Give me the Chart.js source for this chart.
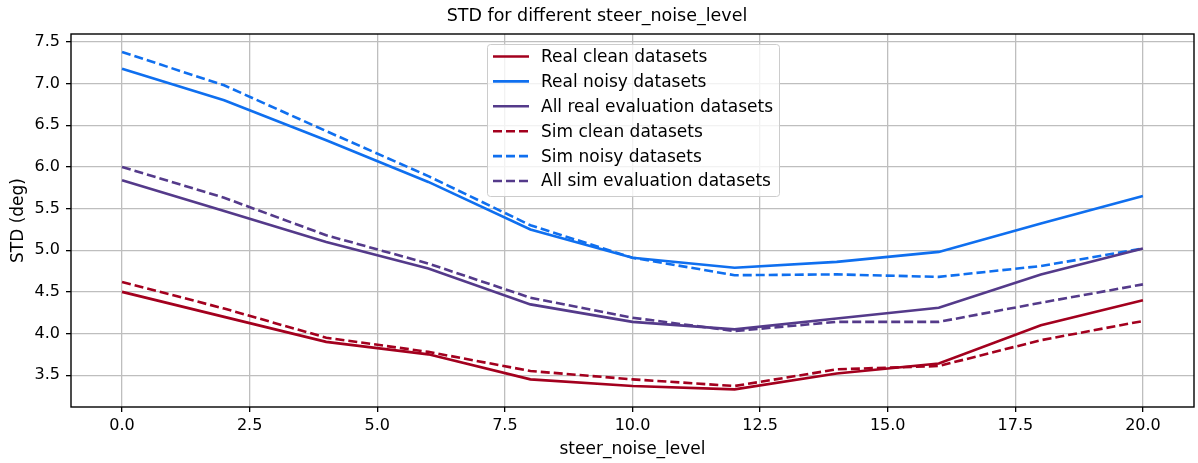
<!DOCTYPE html>
<html>
<head>
<meta charset="utf-8">
<script src="https://cdn.jsdelivr.net/npm/chart.js@4/dist/chart.umd.min.js"></script>
<style>
  html, body { margin: 0; padding: 0; background: #fff; }
  #wrap { width: 1198px; height: 463px; }
</style>
</head>
<body>
<div id="wrap"><canvas id="stdChart" width="1198" height="463"></canvas></div>
<script>
// steer noise levels on the x axis
var noiseLevels = [0, 2, 4, 6, 8, 10, 12, 14, 16, 18, 20];

// STD (deg) per noise level
var realClean = [4.50, 4.20, 3.90, 3.75, 3.45, 3.37, 3.33, 3.52, 3.64, 4.10, 4.40];
var realNoisy = [7.18, 6.80, 6.32, 5.82, 5.25, 4.91, 4.79, 4.86, 4.98, 5.32, 5.65];
var realAll   = [5.84, 5.47, 5.10, 4.78, 4.35, 4.14, 4.05, 4.18, 4.31, 4.71, 5.02];
var simClean  = [4.62, 4.30, 3.95, 3.78, 3.55, 3.45, 3.37, 3.57, 3.61, 3.92, 4.15];
var simNoisy  = [7.38, 6.98, 6.43, 5.89, 5.30, 4.91, 4.70, 4.71, 4.68, 4.81, 5.02];
var simAll    = [6.00, 5.63, 5.18, 4.84, 4.43, 4.19, 4.03, 4.14, 4.14, 4.37, 4.59];

var xTicks = [0, 2.5, 5, 7.5, 10, 12.5, 15, 17.5, 20];
var yTicks = [3.5, 4.0, 4.5, 5.0, 5.5, 6.0, 6.5, 7.0, 7.5];

var RED = '#a3001e';
var BLUE = '#0f6fef';
var PURPLE = '#543a8a';
var FONT = "'DejaVu Sans', sans-serif";
var LW = 2.6;

function toPoints(values) {
    return values.map(function(v, i) { return { x: noiseLevels[i], y: v }; });
}

function makeSet(label, values, color, dashed) {
    return {
        label: label,
        data: toPoints(values),
        borderColor: color,
        backgroundColor: color,
        borderWidth: LW,
        borderDash: dashed ? [9, 4] : [],
        pointRadius: 0,
        tension: 0,
        fill: false
    };
}

// frame around the plot area (all four spines)
var frame = {
    id: 'frame',
    afterDatasetsDraw: function(chart) {
        var a = chart.chartArea, ctx = chart.ctx;
        ctx.save();
        ctx.strokeStyle = '#000';
        ctx.lineWidth = 1.4;
        ctx.strokeRect(a.left, a.top, a.right - a.left, a.bottom - a.top);
        ctx.restore();
    }
};

// boxed legend inside the plot
var boxLegend = {
    id: 'boxLegend',
    afterDraw: function(chart) {
        var ctx = chart.ctx;
        var x0 = 487.5, y0 = 44.5, w = 292, h = 152;
        ctx.save();
        ctx.fillStyle = 'rgba(255,255,255,0.8)';
        ctx.strokeStyle = '#cccccc';
        ctx.lineWidth = 1;
        ctx.beginPath();
        ctx.roundRect(x0, y0, w, h, 3);
        ctx.fill();
        ctx.stroke();
        ctx.font = '17px ' + FONT;
        ctx.textBaseline = 'middle';
        ctx.textAlign = 'left';
        chart.data.datasets.forEach(function(ds, i) {
            var y = 56.5 + i * 24.9;
            ctx.strokeStyle = ds.borderColor;
            ctx.lineWidth = LW;
            ctx.setLineDash(ds.borderDash);
            ctx.beginPath();
            ctx.moveTo(493, y);
            ctx.lineTo(529, y);
            ctx.stroke();
            ctx.setLineDash([]);
            ctx.fillStyle = '#000';
            ctx.fillText(ds.label, 541, y + 1);
        });
        ctx.restore();
    }
};

var gridStyle = { color: '#bebebe', lineWidth: 1.3, tickColor: '#000', tickLength: 5, tickWidth: 1.3 };

var stdChart = new Chart(document.getElementById('stdChart').getContext('2d'), {
    type: 'line',
    data: {
        datasets: [
            makeSet('Real clean datasets', realClean, RED, false),
            makeSet('Real noisy datasets', realNoisy, BLUE, false),
            makeSet('All real evaluation datasets', realAll, PURPLE, false),
            makeSet('Sim clean datasets', simClean, RED, true),
            makeSet('Sim noisy datasets', simNoisy, BLUE, true),
            makeSet('All sim evaluation datasets', simAll, PURPLE, true)
        ]
    },
    options: {
        responsive: false,
        animation: false,
        layout: { padding: { left: 0, right: 4, top: 0, bottom: 0 } },
        plugins: {
            legend: { display: false },
            tooltip: { enabled: false },
            title: {
                display: true,
                text: 'STD for different steer_noise_level',
                color: '#000',
                font: { family: FONT, size: 17.5, weight: 'normal', lineHeight: 1.2 },
                padding: { top: 6, bottom: 7 }
            }
        },
        scales: {
            x: {
                type: 'linear',
                min: -1,
                max: 21,
                afterBuildTicks: function(scale) {
                    scale.ticks = xTicks.map(function(v) { return { value: v }; });
                },
                afterFit: function(scale) { scale.height = 56; },
                ticks: {
                    color: '#000',
                    font: { family: FONT, size: 16 },
                    padding: 4,
                    maxRotation: 0,
                    callback: function(v) { return Number(v).toFixed(1); }
                },
                grid: gridStyle,
                border: { display: false },
                title: {
                    display: true,
                    text: 'steer_noise_level',
                    color: '#000',
                    font: { family: FONT, size: 17, lineHeight: 1.2 },
                    padding: { top: 0, bottom: 3 }
                }
            },
            y: {
                type: 'linear',
                min: 3.118,
                max: 7.596,
                afterBuildTicks: function(scale) {
                    scale.ticks = yTicks.map(function(v) { return { value: v }; });
                },
                afterFit: function(scale) { scale.width = 71; },
                ticks: {
                    color: '#000',
                    font: { family: FONT, size: 16 },
                    padding: 6,
                    callback: function(v) { return Number(v).toFixed(1); }
                },
                grid: gridStyle,
                border: { display: false },
                title: {
                    display: true,
                    text: 'STD (deg)',
                    color: '#000',
                    font: { family: FONT, size: 17, lineHeight: 1.2 },
                    padding: { top: 8, bottom: 0 }
                }
            }
        }
    },
    plugins: [frame, boxLegend]
});
</script>
</body>
</html>
